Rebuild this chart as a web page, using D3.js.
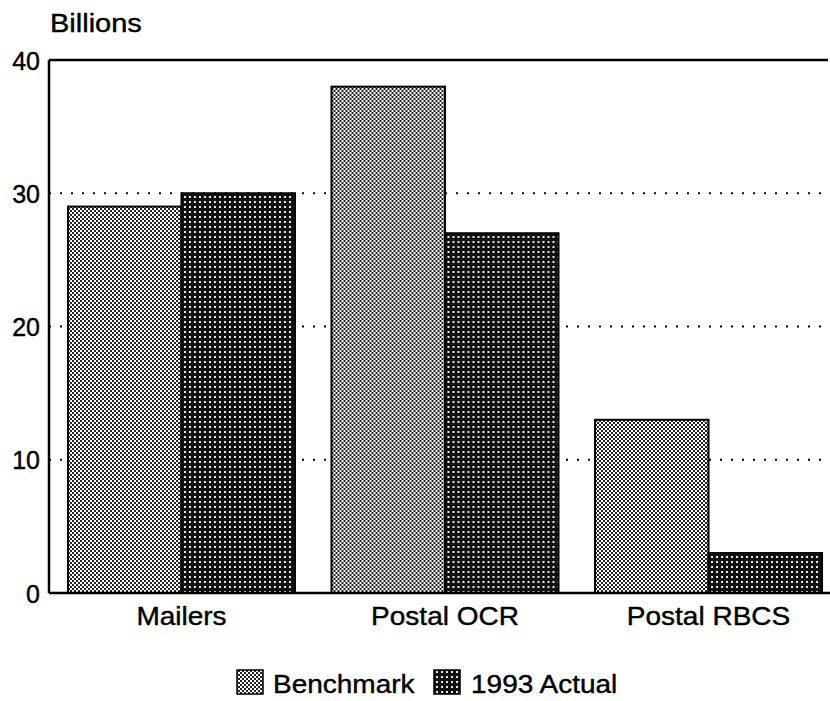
<!DOCTYPE html>
<html>
<head>
<meta charset="utf-8">
<script src="https://cdn.jsdelivr.net/npm/d3@7"></script>
<style>
  body { margin: 0; background: #fff; }
  text { font-family: "Liberation Sans", Arial, sans-serif; fill: #000; stroke: #000; stroke-width: 0.4px; }
</style>
</head>
<body>
<svg id="chart" width="830" height="701"></svg>
<script>
const categories = ["Mailers", "Postal OCR", "Postal RBCS"];
const seriesNames = ["Benchmark", "1993 Actual"];
const benchmark = [29, 38, 13];
const actual1993 = [30, 27, 3];
const yTicks = [0, 10, 20, 30, 40];
const gridTicks = [10, 20, 30];
const yLabel = "Billions";

const svg = d3.select("#chart");
const defs = svg.append("defs");

// Benchmark: light checker dither
const p1 = defs.append("pattern").attr("id", "pBench").attr("patternUnits", "userSpaceOnUse")
  .attr("width", 4).attr("height", 4);
p1.append("rect").attr("width", 4).attr("height", 4).attr("fill", "#fff");
p1.append("rect").attr("x", 0).attr("y", 0).attr("width", 2).attr("height", 2).attr("fill", "#222");
p1.append("rect").attr("x", 2).attr("y", 2).attr("width", 2).attr("height", 2).attr("fill", "#222");

// Actual: dark with white dots
const p2 = defs.append("pattern").attr("id", "pActual").attr("patternUnits", "userSpaceOnUse")
  .attr("width", 5).attr("height", 5);
p2.append("rect").attr("width", 5).attr("height", 5).attr("fill", "#111");
p2.append("rect").attr("x", 1).attr("y", 1).attr("width", 2).attr("height", 2).attr("fill", "#e8e8e8");

const fills = ["url(#pBench)", "url(#pActual)"];
const SX = 1.12; // horizontal stretch of the reference typeface

const y = d3.scaleLinear().domain([0, 40]).range([593, 60]);
const x0 = d3.scaleBand().domain(categories).range([49, 841]).paddingInner(0.1385).paddingOuter(0.072);
const x1 = d3.scaleBand().domain(seriesNames).range([0, x0.bandwidth()]);

const left = 49, right = 828;

// dotted gridlines
svg.append("g").selectAll("line").data(gridTicks).join("line")
  .attr("x1", left).attr("x2", 824)
  .attr("y1", d => y(d)).attr("y2", d => y(d))
  .attr("stroke", "#000").attr("stroke-width", 1.8)
  .attr("stroke-dasharray", "2,9");

// bars
const data = categories.map((c, i) => ({ cat: c, vals: [benchmark[i], actual1993[i]] }));
const groups = svg.append("g").selectAll("g").data(data).join("g")
  .attr("transform", d => `translate(${x0(d.cat)},0)`);
groups.selectAll("rect").data(d => d.vals.map((v, j) => ({ v, s: seriesNames[j], j })))
  .join("rect")
  .attr("x", d => x1(d.s))
  .attr("y", d => y(d.v))
  .attr("width", x1.bandwidth())
  .attr("height", d => y(0) - y(d.v))
  .attr("fill", d => fills[d.j])
  .attr("stroke", "#000").attr("stroke-width", 2);

// frame: left axis, top line, baseline
svg.append("line").attr("x1", left).attr("x2", left).attr("y1", y(40)).attr("y2", y(0))
  .attr("stroke", "#000").attr("stroke-width", 2.5);
svg.append("line").attr("x1", left).attr("x2", right).attr("y1", y(40)).attr("y2", y(40))
  .attr("stroke", "#000").attr("stroke-width", 2.5);
svg.append("line").attr("x1", left).attr("x2", 830).attr("y1", y(0)).attr("y2", y(0))
  .attr("stroke", "#000").attr("stroke-width", 2.5);

// y axis labels
const yAxis = d3.axisLeft(y).tickValues(yTicks).tickSize(0).tickPadding(9);
const gy = svg.append("g").attr("transform", `translate(${left},0)`).call(yAxis);
gy.select(".domain").remove();
gy.selectAll("text").attr("font-size", 25).attr("font-family", "Liberation Sans, Arial, sans-serif")
  .attr("fill", "#000").attr("dy", "0.36em");

// x axis labels
const xAxis = d3.axisBottom(x0).tickSize(0);
const gx = svg.append("g").attr("transform", `translate(0,${y(0)})`).call(xAxis);
gx.select(".domain").remove();
gx.selectAll("text").attr("font-size", 25).attr("font-family", "Liberation Sans, Arial, sans-serif")
  .attr("fill", "#000").attr("y", 32).attr("dy", 0)
  .attr("transform", `scale(${SX},1)`);

// y label
svg.append("text").attr("transform", `translate(50,32) scale(${SX + 0.04},1)`)
  .attr("font-size", 25).text(yLabel);

// legend
const legendItems = [
  { name: seriesNames[0], fill: fills[0], sx: 237, tx: 273 },
  { name: seriesNames[1], fill: fills[1], sx: 434, tx: 471 }
];
const lg = svg.append("g");
legendItems.forEach(it => {
  lg.append("rect").attr("x", it.sx).attr("y", 670).attr("width", 26).attr("height", 24)
    .attr("fill", it.fill).attr("stroke", "#000").attr("stroke-width", 1.5);
  lg.append("text").attr("transform", `translate(${it.tx},693) scale(${SX},1)`)
    .attr("font-size", 25).text(it.name);
});
</script>
</body>
</html>
